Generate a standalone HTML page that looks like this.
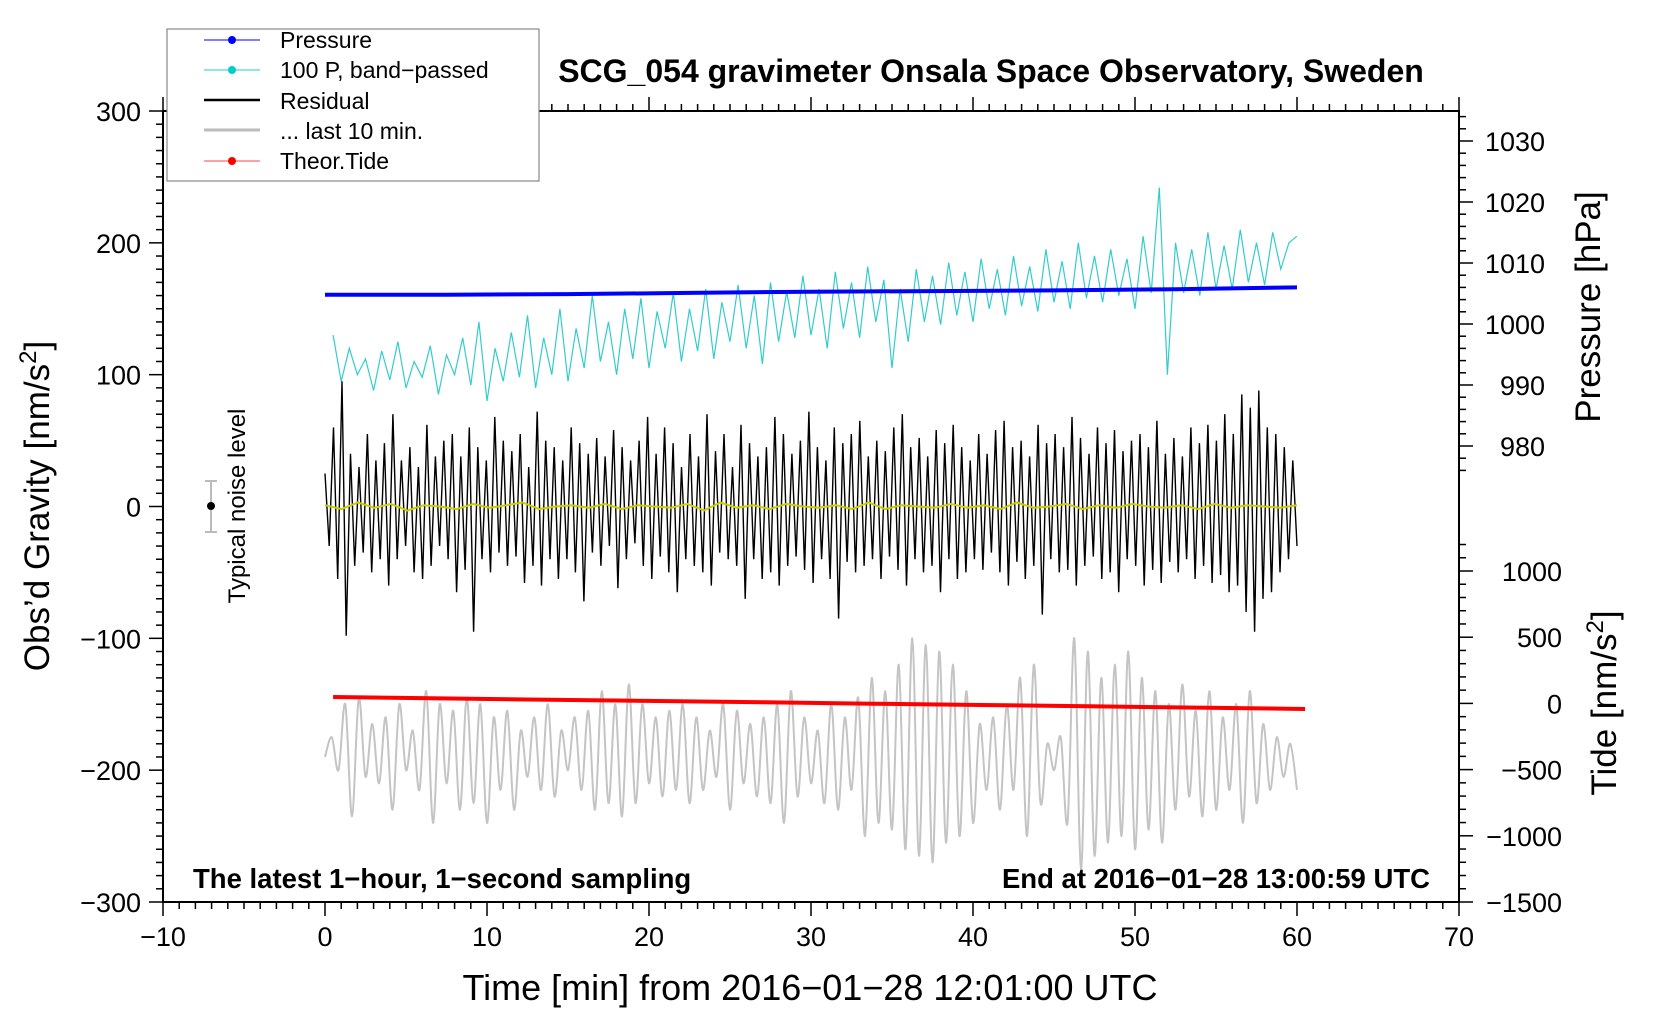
<!DOCTYPE html>
<html><head><meta charset="utf-8"><style>
html,body{margin:0;padding:0;background:#fff;}
svg{display:block;font-family:"Liberation Sans",sans-serif;}
</style></head><body>
<svg id="chart" width="1660" height="1020" xmlns="http://www.w3.org/2000/svg">
<rect width="1660" height="1020" fill="#fff"/>
<g id="marks"></g>
<g id="axes"></g>
<text x="991" y="82" text-anchor="middle" font-size="32" font-weight="bold">SCG_054 gravimeter Onsala Space Observatory, Sweden</text>
<text transform="translate(49,506) rotate(-90)" text-anchor="middle" font-size="35">Obs’d Gravity [nm/s<tspan dy="-13" font-size="24">2</tspan><tspan dy="13">]</tspan></text>
<text transform="translate(1600,307) rotate(-90)" text-anchor="middle" font-size="35">Pressure [hPa]</text>
<text transform="translate(1616,703) rotate(-90)" text-anchor="middle" font-size="35">Tide [nm/s<tspan dy="-13" font-size="24">2</tspan><tspan dy="13">]</tspan></text>
<text x="810" y="1000" text-anchor="middle" font-size="36">Time [min] from 2016−01−28 12:01:00 UTC</text>
<text x="193" y="888" font-size="27.5" font-weight="bold">The latest 1−hour, 1−second sampling</text>
<text x="1430" y="888" text-anchor="end" font-size="27.5" font-weight="bold">End at 2016−01−28 13:00:59 UTC</text>
<g>
<line x1="211" y1="481" x2="211" y2="532" stroke="#bbb" stroke-width="2"/>
<line x1="205" y1="481" x2="217" y2="481" stroke="#bbb" stroke-width="2"/>
<line x1="205" y1="532" x2="217" y2="532" stroke="#bbb" stroke-width="2"/>
<circle cx="211" cy="506" r="4" fill="#000"/>
<text transform="translate(245,506) rotate(-90)" text-anchor="middle" font-size="24">Typical noise level</text>
</g>
<g>
<rect x="167" y="29" width="372" height="152" fill="#fff" stroke="#888" stroke-width="1.2"/>
<g><line x1="204" y1="40" x2="260" y2="40" stroke="#00f" stroke-width="1"/><circle cx="232" cy="40" r="4" fill="#00f"/><text x="280" y="48" font-size="23">Pressure</text></g>
<g><line x1="204" y1="70" x2="260" y2="70" stroke="#2cc" stroke-width="1"/><circle cx="232" cy="70" r="4" fill="#0cc"/><text x="280" y="78" font-size="23">100 P, band−passed</text></g>
<g><line x1="204" y1="100" x2="260" y2="100" stroke="#000" stroke-width="2.5"/><text x="280" y="109" font-size="23">Residual</text></g>
<g><line x1="204" y1="130" x2="260" y2="130" stroke="#bbb" stroke-width="3"/><text x="280" y="139" font-size="23">... last 10 min.</text></g>
<g><line x1="204" y1="161" x2="260" y2="161" stroke="#f44" stroke-width="1"/><circle cx="232" cy="161" r="4" fill="#f00"/><text x="280" y="169" font-size="23">Theor.Tide</text></g>
</g>
</svg>
<script>
const xTicks = [-10,0,10,20,30,40,50,60,70];
const yTicks = [-300,-200,-100,0,100,200,300];
const pTicks = [980,990,1000,1010,1020,1030];
const tTicks = [-1500,-1000,-500,0,500,1000];
const pressure = [1004.8,1004.8,1004.9,1005.1,1005.3,1005.4,1005.5,1005.7,1006.0];
const tide = [48,38,28,18,8,-2,-12,-22,-32,-42];
const bandpassed = [130,95,120,100,112,88,118,96,125,90,110,98,122,85,115,100,128,92,140,80,120,95,132,98,145,90,128,100,150,95,135,105,160,110,140,100,150,112,158,105,148,120,162,110,150,118,165,112,155,125,168,120,160,108,170,125,163,128,175,130,165,120,178,135,170,128,182,140,172,105,165,125,180,140,175,138,185,145,178,140,188,150,180,145,190,152,182,148,195,155,186,150,200,158,190,155,195,160,188,150,205,162,242,100,200,162,195,160,208,165,198,165,210,170,200,168,208,180,200,205];
const residual = [25,-30,60,-55,95,-98,40,-45,30,-35,55,-50,35,-40,48,-60,70,-40,35,-30,45,-50,30,-55,62,-45,38,-30,50,-40,55,-65,38,-48,60,-95,45,-40,35,-50,68,-35,50,-45,42,-38,55,-58,30,-45,72,-60,50,-40,45,-55,35,-40,60,-50,48,-72,40,-35,52,-45,38,-30,58,-62,45,-40,35,-28,50,-45,68,-55,40,-38,60,-50,48,-65,30,-40,55,-45,38,-50,70,-60,42,-35,55,-40,30,-45,62,-70,48,-40,38,-55,45,-50,68,-60,55,-45,40,-38,50,-48,72,-58,45,-40,35,-55,60,-85,48,-42,55,-50,65,-45,38,-40,50,-55,42,-38,60,-48,70,-60,45,-40,52,-50,38,-45,58,-65,48,-40,62,-55,45,-50,35,-40,55,-48,40,-35,58,-50,65,-60,45,-42,50,-55,38,-45,62,-82,48,-40,55,-50,45,-48,68,-60,52,-45,40,-38,60,-55,48,-50,58,-65,42,-40,50,-45,55,-60,45,-48,65,-58,40,-42,52,-50,38,-40,60,-55,48,-45,62,-58,50,-52,70,-65,55,-60,85,-80,75,-95,88,-70,60,-65,55,-50,45,-40,35,-30];
const smoothed = [1,-2,3,-1,2,-3,1,0,-2,2,-1,1,3,-2,0,1,-1,2,-2,1,0,-1,2,-3,3,-1,1,-2,2,0,-1,1,-2,3,-2,1,0,-1,2,-1,1,-2,3,-1,0,2,-2,1,-1,2,0,-1,1,-2,2,-1,1,0,-1,1];
const gray = [-190,-175,-200,-150,-235,-145,-205,-165,-210,-160,-230,-150,-200,-170,-215,-140,-240,-150,-210,-155,-230,-145,-225,-150,-240,-160,-215,-155,-230,-170,-205,-160,-215,-150,-220,-170,-200,-160,-215,-155,-230,-140,-225,-150,-235,-135,-225,-150,-210,-160,-220,-155,-215,-150,-225,-160,-215,-170,-205,-150,-230,-155,-210,-165,-220,-160,-225,-150,-240,-140,-220,-160,-210,-170,-225,-150,-230,-160,-215,-145,-250,-130,-240,-140,-245,-120,-260,-100,-265,-105,-270,-110,-255,-120,-250,-140,-240,-165,-215,-160,-230,-150,-215,-130,-250,-120,-225,-180,-200,-175,-240,-100,-275,-110,-265,-130,-255,-120,-250,-110,-260,-130,-245,-140,-255,-150,-230,-135,-220,-155,-235,-140,-230,-160,-215,-150,-240,-140,-225,-165,-215,-175,-205,-180,-215];

const X = t => 163 + (t + 10) * 16.2;
const Y = v => 506.5 - v * 1.3183;
const P = p => 141 + (1030 - p) * 6.1;
const T = v => 703.4 - v * 0.1324;
const NS = "http://www.w3.org/2000/svg";
const marks = document.getElementById('marks');
const axes = document.getElementById('axes');
function mk(tag, attrs, parent){const e=document.createElementNS(NS,tag);for(const k in attrs)e.setAttribute(k,attrs[k]);parent.appendChild(e);return e;}
function series(arr, t0, t1, yf){const n=arr.length;return arr.map((v,i)=>X(t0+(t1-t0)*i/(n-1)).toFixed(1)+','+yf(v).toFixed(1)).join(' ');}
function smoothPath(arr,t0,t1,yf){const n=arr.length;const pts=arr.map((v,i)=>[X(t0+(t1-t0)*i/(n-1)),yf(v)]);let d='M'+pts[0][0].toFixed(1)+','+pts[0][1].toFixed(1);for(let i=0;i<n-1;i++){const p0=pts[Math.max(0,i-1)],p1=pts[i],p2=pts[i+1],p3=pts[Math.min(n-1,i+2)];const c1=[p1[0]+(p2[0]-p0[0])/6,p1[1]+(p2[1]-p0[1])/6],c2=[p2[0]-(p3[0]-p1[0])/6,p2[1]-(p3[1]-p1[1])/6];d+=' C'+c1[0].toFixed(1)+','+c1[1].toFixed(1)+' '+c2[0].toFixed(1)+','+c2[1].toFixed(1)+' '+p2[0].toFixed(1)+','+p2[1].toFixed(1);}return d;}

let e;
e = mk('path',{d:smoothPath(gray,0,60,Y),fill:'none',stroke:'#c4c4c4','stroke-width':2},marks);


e = mk('polyline',{points:series(bandpassed,0.5,60,Y),fill:'none',stroke:'#33cccc','stroke-width':1.2},marks);


e = mk('polyline',{points:series(residual,0,60,Y),fill:'none',stroke:'#000','stroke-width':1.4},marks);


e = mk('polyline',{points:series(smoothed,0,60,Y),fill:'none',stroke:'#cccc00','stroke-width':2},marks);


e = mk('polyline',{points:series(pressure,0,60,P),fill:'none',stroke:'#0000ff','stroke-width':4},marks);


e = mk('polyline',{points:series(tide,0.5,60.5,T),fill:'none',stroke:'#ff0000','stroke-width':4},marks);



e = mk('rect',{x:163,y:111,width:1296,height:791,fill:'none',stroke:'#000','stroke-width':2},axes);


const tk = {stroke:'#000','stroke-width':1.5};
for(let t=-10;t<=70;t++){const maj=t%10===0;const L=maj?14:7;
 mk('line',Object.assign({x1:X(t),x2:X(t),y1:902,y2:902+L},tk),axes);
 mk('line',Object.assign({x1:X(t),x2:X(t),y1:111,y2:111-L},tk),axes);}
xTicks.forEach(t=>{e=mk('text',{x:X(t),y:946,'text-anchor':'middle','font-size':27},axes);e.textContent=t<0?'−'+(-t):t;
 
 });
for(let v=-300;v<=300;v+=10){const maj=v%100===0;mk('line',Object.assign({x1:163-(maj?14:7),x2:163,y1:Y(v),y2:Y(v)},tk),axes);}
yTicks.forEach(v=>{e=mk('text',{x:141,y:Y(v)+10,'text-anchor':'end','font-size':27},axes);e.textContent=v<0?'−'+(-v):v;
 
 });
for(let p=976;p<=1034;p+=2){const maj=p%10===0;mk('line',Object.assign({x1:1459,x2:1459+(maj?14:7),y1:P(p),y2:P(p)},tk),axes);}
pTicks.forEach(p=>{e=mk('text',{x:1545,y:P(p)+10,'text-anchor':'end','font-size':27},axes);e.textContent=p;
 
 });
for(let v=-1500;v<=1200;v+=100){const maj=v%500===0;mk('line',Object.assign({x1:1459,x2:1459+(maj?14:7),y1:T(v),y2:T(v)},tk),axes);}
tTicks.forEach(v=>{e=mk('text',{x:1562,y:T(v)+10,'text-anchor':'end','font-size':27},axes);e.textContent=v<0?'−'+(-v):v;
 
 });
</script>
</body></html>
